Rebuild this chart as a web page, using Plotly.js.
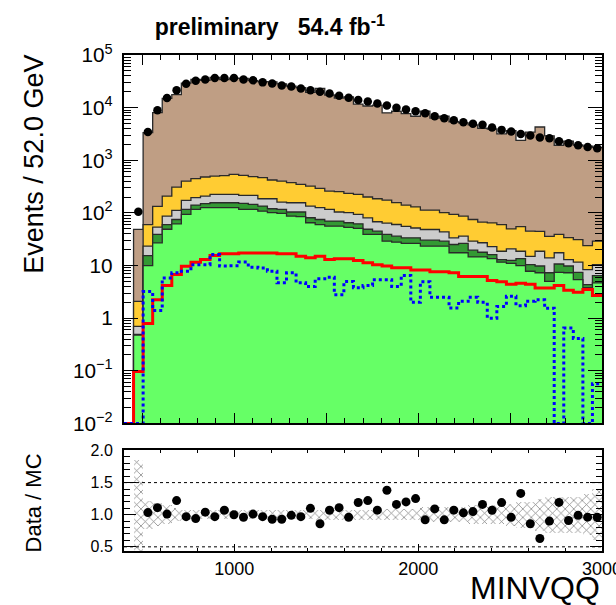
<!DOCTYPE html>
<html><head><meta charset="utf-8">
<script src="https://cdn.plot.ly/plotly-3.0.1.min.js"></script>
<style>html,body{margin:0;padding:0;background:#fff}</style>
</head><body><div id="chart" style="width:616px;height:605px"></div>
<script>
// Binning (MINVQQ, 52 GeV bins from 400 to 3000)
const binLow = 400;
const binWidth = 52;
const nBins = 50;

// Observed data per bin
const dataCounts = [0, 105, 3460, 8960, 15200, 21500, 28400, 32400, 34400, 36500,
  36500, 36500, 34400, 33000, 30200, 28800, 26300, 25300, 23200, 21500,
  20000, 18600, 16800, 15400, 13900, 13100, 12000, 11000, 9900, 9250,
  8580, 7850, 6890, 6310, 5780, 5300, 4920, 4710, 4200, 3780,
  3520, 3170, 2950, 2700, 2620, 2300, 2110, 1930, 1790, 1690];

// Stacked background components (bottom to top)
const bkgGreen = [0, 0.48, 10, 27, 49, 62, 94, 117, 126, 126,
  126, 126, 117, 117, 108, 101, 98, 87, 85, 65,
  60, 56, 56, 53, 51, 39, 39, 29, 27.8, 26.4,
  26.4, 23.3, 23.3, 23.3, 17.5, 17.5, 14.6, 14.6, 13.5, 11.6,
  11, 10, 7.8, 7.3, 5, 7.4, 7.3, 5.4, 3.8, 4.7];
const bkgDarkGreen = [0, 0.01, 5.5, 12, 11, 13, 23, 24, 24, 30,
  30, 30, 35, 28, 27, 19, 19, 17, 19, 16,
  15, 14, 14, 12, 11, 10, 6, 10, 8.4, 7.3,
  7.3, 7.1, 7.1, 5.7, 7.6, 8.9, 5, 3.3, 2.7, 1.4,
  1.6, 3.5, 2.6, 2.5, 2.3, 3.3, 2.5, 2, 0.55, 1.75];
const bkgGrey = [0, 0.21, 7.8, 14.6, 27, 37, 56, 54, 59, 69,
  69, 69, 63, 70, 51, 66, 44, 52, 52, 54,
  51, 47, 34, 36, 32, 31.5, 23, 25, 24, 22,
  18, 18, 18, 14.5, 8.6, 9.8, 9.4, 9.2, 6.6, 5.7,
  8.2, 5.2, 4.6, 8.9, 6.7, 6.8, 3.2, 4.2, 4.05, 3.95];
const bkgYellow = [0, 1.39, 36.7, 80, 122, 198, 230, 253, 272, 277,
  285, 316, 303, 275, 282, 236, 242, 220, 193, 189,
  167, 143, 150, 134, 131, 120, 118, 111, 96, 85,
  79, 64.5, 64.5, 57.5, 60, 51, 46, 40, 42, 41,
  29, 36, 30, 26, 22, 21.5, 21, 19.4, 15.6, 18.6];
const bkgBrown = [0, 46.4, 3290, 7936, 14841, 17310, 28877, 34022, 32599, 37128,
  33600, 35959, 35312, 32180, 30662, 30548, 27877, 25184, 23571, 19226,
  22967, 17120, 14886, 15805, 11455, 10540, 11024, 7795, 8374, 7569,
  6729, 8417, 6207, 6759, 5306, 5063, 4615, 3993, 3865, 3120,
  3620, 2325, 3385, 4245, 2874, 1891, 2286, 1919, 1836, 1731];

// Overlaid signal histograms
const signalRed = [0, 0.097, 0.79, 2.25, 4.16, 6.74, 9.7, 11.6, 13, 15.5,
  16.7, 16.7, 17.3, 17.3, 17.3, 17.3, 16.7, 16.7, 15, 14,
  15, 13, 13.5, 13.5, 12.5, 11.3, 10.4, 9.8, 9.1, 9.1,
  8.2, 8.2, 7.6, 7.6, 7.3, 6.2, 6.2, 6.2, 5.2, 4.9,
  4.4, 4.6, 4.4, 3.75, 3.75, 4.2, 3.4, 3.1, 3.5, 2.7];
const signalBlue = [0, 0, 3.2, 1.4, 5.8, 7.3, 7.8, 10.4, 10.4, 16.2,
  9.8, 9.9, 11.7, 9.3, 9.0, 7.8, 4.7, 7.3, 4.7, 4.0,
  5.6, 6.0, 2.8, 5.0, 3.8, 4.2, 5.4, 5.4, 4.0, 6.5,
  2.0, 4.9, 2.5, 2.5, 1.57, 2.1, 2.5, 2.0, 1.0, 1.67,
  2.6, 1.73, 2.1, 2.25, 1.55, 0, 0.65, 0.41, 0, 0.057];

// Relative MC uncertainty (hatched band in ratio panel)
const mcRelErr = [0, 0.85, 0.22, 0.18, 0.15, 0.1, 0.08, 0.07, 0.07, 0.07,
  0.07, 0.07, 0.07, 0.07, 0.07, 0.07, 0.07, 0.07, 0.07, 0.07,
  0.08, 0.08, 0.08, 0.08, 0.08, 0.08, 0.08, 0.09, 0.09, 0.09,
  0.09, 0.12, 0.12, 0.12, 0.12, 0.12, 0.15, 0.15, 0.15, 0.15,
  0.17, 0.2, 0.2, 0.25, 0.28, 0.28, 0.28, 0.28, 0.32, 0.4];

const ratioRefLines = [0.5, 1.5];
const xMajorTicks = [500, 1000, 1500, 2000, 2500, 3000];
const xRatioTicks = [1000, 2000, 3000];
const ratioTicks = [0.5, 1.0, 1.5, 2.0];
const ratioTickText = ['0.5', '1.0', '1.5', '2.0'];

// ---- build ----
const edges = Array.from({length: nBins + 1}, (_, i) => binLow + i * binWidth);
const centers = edges.slice(0, -1).map(e => e + binWidth / 2);
const yFloor = 1e-2;
function stepY(vals) {
  const v = vals.map(x => (x > 0 ? x : yFloor));
  return v.concat([v[v.length - 1]]);
}
function addArr(a, b) { return a.map((x, i) => x + b[i]); }
const cumGreen = bkgGreen.slice();
const cumDark = addArr(cumGreen, bkgDarkGreen);
const cumGrey = addArr(cumDark, bkgGrey);
const cumYellow = addArr(cumGrey, bkgYellow);
const cumTotal = addArr(cumYellow, bkgBrown);

const FONT = 'Liberation Sans, Arial, Helvetica, sans-serif';
const outline = {color: '#2a2a2a', width: 1.3, shape: 'hv'};
function stackTrace(cum, fillcolor) {
  return {x: edges, y: stepY(cum), type: 'scatter', mode: 'lines', line: outline,
    fill: 'tozeroy', fillcolor: fillcolor, hoverinfo: 'skip', xaxis: 'x', yaxis: 'y'};
}

const traces = [
  stackTrace(cumTotal, '#bf9e84'),
  stackTrace(cumYellow, '#ffcc33'),
  stackTrace(cumGrey, '#cccccc'),
  stackTrace(cumDark, '#339933'),
  stackTrace(cumGreen, '#66ff66'),
  {x: edges, y: stepY(signalRed), type: 'scatter', mode: 'lines',
    line: {color: '#ff0000', width: 3, shape: 'hv'}, hoverinfo: 'skip', xaxis: 'x', yaxis: 'y'},
  {x: edges, y: stepY(signalBlue), type: 'scatter', mode: 'lines',
    line: {color: '#0000ff', width: 3, shape: 'hv', dash: 'dot'}, hoverinfo: 'skip', xaxis: 'x', yaxis: 'y'},
  {x: centers, y: dataCounts.map(v => (v > 0 ? v : null)), type: 'scatter', mode: 'markers',
    marker: {color: '#000', size: 8.5}, hoverinfo: 'skip', xaxis: 'x', yaxis: 'y'},
  {x: centers, y: mcRelErr.map(e => 2 * e), base: mcRelErr.map(e => 1 - e), type: 'bar',
    width: binWidth, marker: {color: '#7a7a7a', line: {width: 0},
      pattern: {shape: 'x', size: 6, solidity: 0.22, fillmode: 'replace'}},
    hoverinfo: 'skip', xaxis: 'x2', yaxis: 'y2'},
  {x: centers, y: dataCounts.map((d, i) => (d > 0 && cumTotal[i] > 0 ? d / cumTotal[i] : null)),
    type: 'scatter', mode: 'markers', marker: {color: '#000', size: 9},
    cliponaxis: true, hoverinfo: 'skip', xaxis: 'x2', yaxis: 'y2'}
];

const axLine = {showline: true, linecolor: '#000', linewidth: 2, mirror: 'ticks',
  showgrid: false, zeroline: false, ticks: 'inside', tickcolor: '#000', tickwidth: 1};

const layout = {
  width: 616, height: 605,
  margin: {l: 124, r: 14, t: 55, b: 54, pad: 0},
  paper_bgcolor: '#fff', plot_bgcolor: '#fff',
  showlegend: false, bargap: 0,
  font: {family: FONT, color: '#000'},
  title: {text: 'preliminary\u00a0\u00a0\u00a054.4 fb<sup>-1</sup>',
    font: {family: FONT, size: 23, weight: 'bold', color: '#000'},
    xref: 'container', x: 0.438, xanchor: 'center',
    yref: 'container', y: 0.955, yanchor: 'middle'},
  xaxis: Object.assign({}, axLine, {domain: [0, 1], range: [binLow, binLow + nBins * binWidth],
    anchor: 'y', tickmode: 'array', tickvals: xMajorTicks, showticklabels: false, ticklen: 10,
    minor: {dtick: 100, tick0: 0, ticklen: 5, ticks: 'inside', tickcolor: '#000'}}),
  yaxis: Object.assign({}, axLine, {domain: [0.2571, 1], type: 'log', range: [-2, 5],
    anchor: 'x', dtick: 1, exponentformat: 'power', ticklen: 14,
    tickfont: {family: FONT, size: 16.6, color: '#000'}, ticklabelstandoff: 6,
    minor: {dtick: 'D1', ticklen: 7, ticks: 'inside', tickcolor: '#000'}}),
  xaxis2: Object.assign({}, axLine, {domain: [0, 1], range: [binLow, binLow + nBins * binWidth],
    anchor: 'y2', tickmode: 'array', tickvals: xRatioTicks, ticklen: 7,
    ticklabeloverflow: 'allow',
    tickfont: {family: FONT, size: 18, color: '#000'},
    minor: {dtick: 200, tick0: 0, ticklen: 3.5, ticks: 'inside', tickcolor: '#000'}}),
  yaxis2: Object.assign({}, axLine, {domain: [0, 0.2046], range: [0.435, 2.015],
    anchor: 'x2', tickmode: 'array', tickvals: ratioTicks, ticktext: ratioTickText, ticklen: 12,
    tickfont: {family: FONT, size: 16, color: '#000'}, ticklabelstandoff: 6,
    minor: {dtick: 0.1, tick0: 0, ticklen: 6, ticks: 'inside', tickcolor: '#000'}}),
  shapes: ratioRefLines.map(v => ({type: 'line', xref: 'paper', x0: 0, x1: 1, yref: 'y2', y0: v, y1: v,
    line: {color: '#000', width: 1, dash: 'dot'}, layer: 'above'})),
  annotations: [
    {text: 'Events / 52.0 GeV', textangle: -90, xref: 'paper', x: -0.19, xanchor: 'center',
      yref: 'paper', y: 1.004, yanchor: 'top', showarrow: false,
      font: {family: FONT, size: 27, color: '#000'}},
    {text: 'Data / MC', textangle: -90, xref: 'paper', x: -0.19, xanchor: 'center',
      yref: 'paper', y: 0.2, yanchor: 'top', showarrow: false,
      font: {family: FONT, size: 22, color: '#000'}},
    {text: 'MINVQQ', xref: 'paper', x: 1.0, xanchor: 'right',
      yref: 'paper', y: -0.0746, yanchor: 'middle', showarrow: false,
      font: {family: FONT, size: 32, color: '#000'}}
  ]
};

Plotly.newPlot('chart', traces, layout, {staticPlot: true, displayModeBar: false});
</script>
</body></html>
